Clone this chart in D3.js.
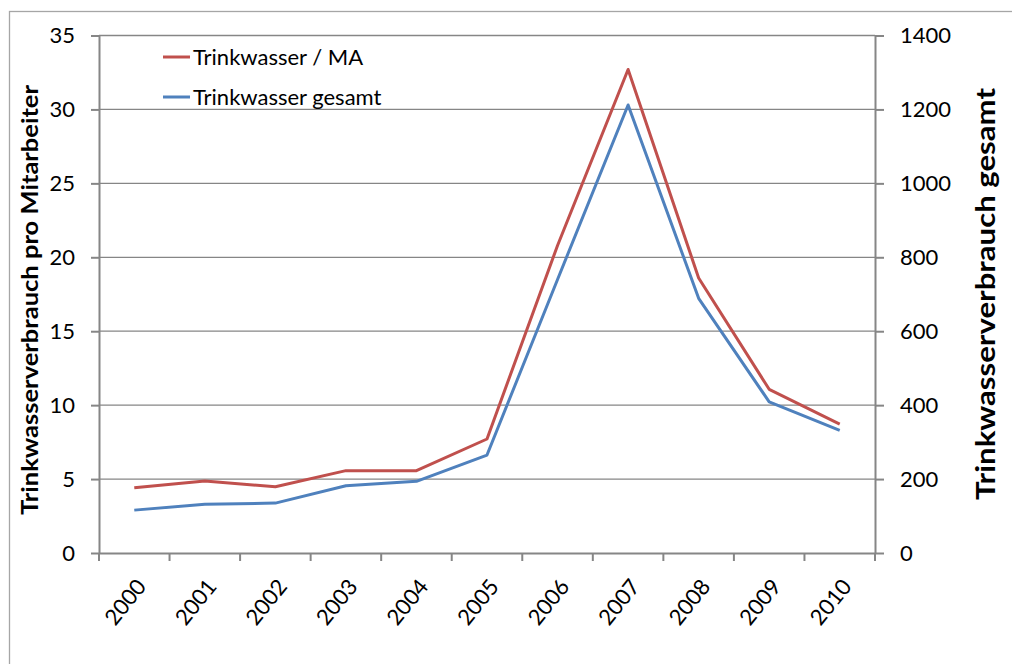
<!DOCTYPE html>
<html lang="de">
<head>
<meta charset="UTF-8">
<title>Trinkwasserverbrauch</title>
<script src="https://cdn.jsdelivr.net/npm/d3@7"></script>
<style>
body { margin: 0; background: #fff; }
svg text { font-family: Lato, "Open Sans", sans-serif; fill: #000; }
.tick text { font-size: 22px; }
.grid line { stroke: #868686; stroke-width: 1.3; }
</style>
</head>
<body>
<script>
var years = ['2000','2001','2002','2003','2004','2005','2006','2007','2008','2009','2010'];
// Trinkwasser pro Mitarbeiter (linke Achse)
var proMA = [4.42, 4.87, 4.48, 5.57, 5.57, 7.71, 20.8, 32.7, 18.6, 11.07, 8.72];
// Trinkwasser gesamt (rechte Achse)
var gesamt = [116, 132, 135, 182, 194, 265, 740, 1212, 689, 409, 332];
var leftTicks = [0, 5, 10, 15, 20, 25, 30, 35];
var rightTicks = [0, 200, 400, 600, 800, 1000, 1200, 1400];

var W = 1012, H = 664;
var m = {left: 99, right: 875, top: 35.5, bottom: 553};

var svg = d3.select('body').append('svg').attr('width', W).attr('height', H);

// outer frame
svg.append('rect').attr('x', 9.5).attr('y', 11.5).attr('width', 1020).attr('height', 700)
    .attr('fill', 'none').attr('stroke', '#a6a6a6').attr('stroke-width', 1.3);

var x = d3.scaleBand().domain(years).range([m.left, m.right]);
var yL = d3.scaleLinear().domain([0, 35]).range([m.bottom, m.top]);
var yR = d3.scaleLinear().domain([0, 1400]).range([m.bottom, m.top]);

// gridlines
svg.append('g').attr('class', 'grid').selectAll('line').data(leftTicks.slice(1)).enter()
    .append('line').attr('x1', m.left).attr('x2', m.right)
    .attr('y1', d => yL(d)).attr('y2', d => yL(d));

function styleAxis(g) {
    g.selectAll('.domain, .tick line').attr('stroke', '#868686').attr('stroke-width', 2);
}

var axL = svg.append('g').attr('transform', 'translate(' + m.left + ',0)')
    .call(d3.axisLeft(yL).tickValues(leftTicks).tickSize(8).tickSizeOuter(0).tickPadding(16));
styleAxis(axL);

var axR = svg.append('g').attr('transform', 'translate(' + m.right + ',0)')
    .call(d3.axisRight(yR).tickValues(rightTicks).tickFormat(d3.format('d'))
        .tickSize(9).tickSizeOuter(0).tickPadding(16));
styleAxis(axR);

var axB = svg.append('g').attr('transform', 'translate(0,' + m.bottom + ')')
    .call(d3.axisBottom(x).tickSize(0).tickSizeOuter(0));
styleAxis(axB);
// category separator ticks
axB.selectAll('.sep').data(years.concat(['end'])).enter().append('line')
    .attr('x1', (d, i) => m.left + i * x.step()).attr('x2', (d, i) => m.left + i * x.step())
    .attr('y1', 0).attr('y2', 8).attr('stroke', '#868686').attr('stroke-width', 2);
axB.selectAll('.tick text')
    .attr('text-anchor', 'end').attr('dy', 0).attr('y', 0)
    .attr('transform', 'translate(13,34) rotate(-51)');

// lines
var lineL = d3.line().x((d, i) => x(years[i]) + x.bandwidth() / 2).y(d => yL(d));
var lineR = d3.line().x((d, i) => x(years[i]) + x.bandwidth() / 2).y(d => yR(d));

svg.append('path').attr('d', lineR(gesamt)).attr('fill', 'none')
    .attr('stroke', '#4F81BD').attr('stroke-width', 3).attr('stroke-linejoin', 'round');
svg.append('path').attr('d', lineL(proMA)).attr('fill', 'none')
    .attr('stroke', '#C0504D').attr('stroke-width', 3).attr('stroke-linejoin', 'round');

// axis titles
svg.append('text').attr('transform', 'translate(38,300) rotate(-90)')
    .attr('text-anchor', 'middle').attr('font-size', 23).attr('font-weight', 'bold')
    .attr('textLength', 430).attr('lengthAdjust', 'spacingAndGlyphs')
    .text('Trinkwasserverbrauch pro Mitarbeiter');
svg.append('text').attr('transform', 'translate(995,294) rotate(-90)')
    .attr('text-anchor', 'middle').attr('font-size', 26).attr('font-weight', 'bold')
    .attr('textLength', 412).attr('lengthAdjust', 'spacingAndGlyphs')
    .text('Trinkwasserverbrauch gesamt');

// legend
var legend = [{name: 'Trinkwasser / MA', color: '#C0504D'}, {name: 'Trinkwasser gesamt', color: '#4F81BD'}];
var lg = svg.selectAll('.lg').data(legend).enter().append('g')
    .attr('transform', (d, i) => 'translate(163,' + (57 + i * 40) + ')');
lg.append('line').attr('x1', 0).attr('x2', 27).attr('stroke', d => d.color).attr('stroke-width', 3);
lg.append('text').attr('x', 30).attr('y', 8).attr('font-size', 22).text(d => d.name);
</script>
</body>
</html>
